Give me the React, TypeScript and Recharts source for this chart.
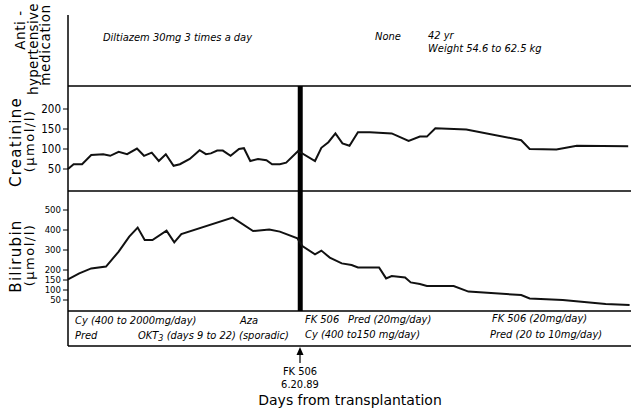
import { LineChart, Line, XAxis, YAxis, ReferenceLine } from 'recharts';

// Creatinine (µmol/l) readings by day after transplantation
const creatinineDays = [
  0, 0.8, 2, 3.3, 5, 6, 7.2, 8.4, 9.8, 10.8, 11.9, 12.9, 13.9, 15, 15.9, 17.3, 18.7, 19.6, 20.3, 21.2,
  22, 23.1, 24.3, 25, 25.9, 27, 28.2, 29, 30.1, 31, 32.7, 35.1, 36, 37, 38, 39, 40, 41.2, 42.9, 46,
  48.4, 50, 51, 52.2, 56.6, 64.4, 65.6, 69.4, 72.3, 79.6,
];
const creatinineValues = [
  50, 62, 62, 85, 87, 83, 93, 87, 101, 83, 91, 70, 87, 58, 62, 75, 97, 87, 89, 96,
  96, 83, 100, 102, 70, 75, 72, 62, 62, 66, 95, 70, 103, 117, 139, 114, 108, 142, 142, 139,
  120, 131, 131, 152, 149, 122, 100, 99, 108, 107,
];

// Bilirubin (µmol/l) readings by day after transplantation
const bilirubinDays = [
  0, 1.6, 3.3, 5.4, 7.2, 8.7, 9.9, 10.9, 12, 14, 15.1, 16.1, 23.4, 26.3, 28.6, 30.1, 32.6, 33.3,
  35.1, 36, 37.2, 38.9, 40.3, 41.2, 44.2, 45.2, 46, 47.9, 48.7, 50, 51, 54.8, 56.9, 64.4, 65.6,
  70.3, 76.4, 79.8,
];
const bilirubinValues = [
  153, 183, 208, 217, 292, 367, 412, 350, 350, 397, 338, 380, 462, 395, 403, 392, 358, 320,
  278, 297, 262, 233, 225, 213, 213, 158, 170, 163, 138, 130, 120, 120, 92, 75, 58,
  50, 30, 25,
];

const dayTicks = [5, 10, 15, 20, 25, 30, 35, 40, 50, 60, 70, 80];
const creatinineTicks = [50, 100, 150, 200];
const bilirubinTicks = [50, 100, 150, 200, 300, 400, 500];

const FK506_DAY = 33;
const REGIMEN_SWITCH_DAY = 52.5;

const creatinineData = creatinineDays.map((day, i) => ({ day, value: creatinineValues[i] }));
const bilirubinData = bilirubinDays.map((day, i) => ({ day, value: bilirubinValues[i] }));

const W = 643;
const MARGIN = { top: 0, right: 12, bottom: 0, left: 28 };
const TICK_FONT = "'Liberation Sans Narrow', 'DejaVu Sans Condensed', sans-serif";
const LABEL_FONT = "'DejaVu Sans', sans-serif";
const NOTE_FONT = "'DejaVu Sans Condensed', 'DejaVu Sans', sans-serif";

const tickStyle = { fill: '#000', fontSize: 11.5, fontFamily: TICK_FONT };
const smallTickStyle = { fill: '#000', fontSize: 9.5, fontFamily: TICK_FONT };
const axisLine = { stroke: '#000', strokeWidth: 1.5 };

const hiddenX = (
  <XAxis
    type="number"
    dataKey="day"
    domain={[0, 80]}
    tick={false}
    tickLine={false}
    height={1}
    axisLine={axisLine}
  />
);

function Note({ x, y, children, anchor = 'start' }: any) {
  return (
    <text
      x={x}
      y={y}
      textAnchor={anchor}
      dominantBaseline="central"
      fontFamily={NOTE_FONT}
      fontStyle="italic"
      fontStretch="condensed"
      fontSize={11}
      fill="#000"
    >
      {children}
    </text>
  );
}

function Title({ x, y, children, size = 15, spacing = 1.3 }: any) {
  return (
    <text
      x={x}
      y={y}
      transform={`rotate(-90 ${x} ${y})`}
      textAnchor="middle"
      dominantBaseline="central"
      fontFamily={LABEL_FONT}
      fontSize={size}
      letterSpacing={spacing}
      fill="#000"
    >
      {children}
    </text>
  );
}

export default function App() {
  return (
    <div style={{ position: 'absolute', left: 0, top: 0, width: W, height: 415, background: '#fff' }}>
      {/* medication panel */}
      <div style={{ position: 'absolute', left: 0, top: 15 }}>
        <LineChart width={W} height={72} margin={MARGIN}>
          {hiddenX}
          <YAxis domain={[0, 1]} width={40} tick={false} tickLine={false} axisLine={axisLine} />
          <ReferenceLine
            segment={[{ x: FK506_DAY, y: 0 }, { x: FK506_DAY, y: 0.4 }]}
            stroke="#000"
            strokeWidth={5}
          />
        </LineChart>
      </div>

      {/* creatinine panel */}
      <div style={{ position: 'absolute', left: 0, top: 86 }}>
        <LineChart width={W} height={106} margin={MARGIN} data={creatinineData}>
          {hiddenX}
          <YAxis
            domain={[-5, 257.5]}
            ticks={creatinineTicks}
            interval={0}
            width={40}
            tick={tickStyle}
            tickSize={5}
            tickMargin={2}
            tickLine={{ stroke: '#000' }}
            axisLine={axisLine}
          />
          <ReferenceLine x={FK506_DAY} stroke="#000" strokeWidth={5} />
          <Line
            type="linear"
            dataKey="value"
            stroke="#111"
            strokeWidth={2}
            dot={false}
            isAnimationActive={false}
          />
        </LineChart>
      </div>

      {/* bilirubin panel */}
      <div style={{ position: 'absolute', left: 0, top: 191 }}>
        <LineChart width={W} height={121} margin={MARGIN} data={bilirubinData}>
          {hiddenX}
          <YAxis
            domain={[-5, 595]}
            ticks={bilirubinTicks}
            interval={0}
            width={40}
            tick={smallTickStyle}
            tickSize={5}
            tickMargin={2}
            tickLine={{ stroke: '#000' }}
            axisLine={axisLine}
          />
          <ReferenceLine x={FK506_DAY} stroke="#000" strokeWidth={5} />
          <Line
            type="linear"
            dataKey="value"
            stroke="#111"
            strokeWidth={2}
            dot={false}
            isAnimationActive={false}
          />
        </LineChart>
      </div>

      {/* treatment panel + day axis */}
      <div style={{ position: 'absolute', left: 0, top: 311 }}>
        <LineChart width={W} height={104} margin={MARGIN}>
          <XAxis
            type="number"
            dataKey="day"
            domain={[0, 80]}
            ticks={dayTicks}
            interval={0}
            height={69}
            tick={tickStyle}
            tickSize={5}
            tickMargin={3}
            tickLine={{ stroke: '#000' }}
            axisLine={axisLine}
          />
          <YAxis domain={[0, 1]} width={40} tick={false} tickLine={false} axisLine={axisLine} />
          <ReferenceLine y={1} stroke="#000" strokeWidth={1.5} />
          <ReferenceLine x={FK506_DAY} stroke="#000" strokeWidth={5} />
          <ReferenceLine x={REGIMEN_SWITCH_DAY} stroke="#000" strokeWidth={1.5} />
        </LineChart>
      </div>

      {/* annotations */}
      <svg width={W} height={415} style={{ position: 'absolute', left: 0, top: 0, pointerEvents: 'none' }}>
        <Title x={20} y={30} size={13.5} spacing={0.6}>Anti -</Title>
        <Title x={33} y={49} size={13.5} spacing={0.3}>hypertensive</Title>
        <Title x={45} y={45} size={13.5} spacing={0.6}>medication</Title>
        <Title x={16} y={142}>Creatinine</Title>
        <Title x={29} y={141} size={13} spacing={1.5}>(μmol/l)</Title>
        <Title x={16} y={256}>Bilirubin</Title>
        <Title x={29} y={255} size={13} spacing={1.5}>(μmol/l)</Title>

        <Note x={103} y={37}>Diltiazem 30mg 3 times a day</Note>
        <Note x={375} y={36}>None</Note>
        <Note x={428} y={35}>42 yr</Note>
        <Note x={428} y={48}>Weight 54.6 to 62.5 kg</Note>

        <Note x={75} y={320}>Cy (400 to 2000mg/day)</Note>
        <Note x={240} y={320}>Aza</Note>
        <Note x={75} y={335}>Pred</Note>
        <Note x={138} y={335}>
          OKT<tspan dy={3} fontSize={9}>3</tspan>
          <tspan dy={-3}> (days 9 to 22) (sporadic)</tspan>
        </Note>
        <Note x={305} y={319}>FK 506</Note>
        <Note x={348} y={319}>Pred (20mg/day)</Note>
        <Note x={305} y={334}>Cy (400 to150 mg/day)</Note>
        <Note x={492} y={318}>FK 506 (20mg/day)</Note>
        <Note x={490} y={334}>Pred (20 to 10mg/day)</Note>

        <line x1={300} y1={363} x2={300} y2={350} stroke="#000" strokeWidth={1.2} />
        <polygon points="296.5,355 300,347 303.5,355" fill="#000" />
        <text x={300} y={371} textAnchor="middle" dominantBaseline="central" fontFamily={TICK_FONT} fontSize={11} fill="#000">
          FK 506
        </text>
        <text x={300} y={384} textAnchor="middle" dominantBaseline="central" fontFamily={TICK_FONT} fontSize={11} fill="#000">
          6.20.89
        </text>
        <text x={350} y={400} textAnchor="middle" dominantBaseline="central" fontFamily={LABEL_FONT} fontSize={14} fill="#000">
          Days from transplantation
        </text>
      </svg>
    </div>
  );
}
